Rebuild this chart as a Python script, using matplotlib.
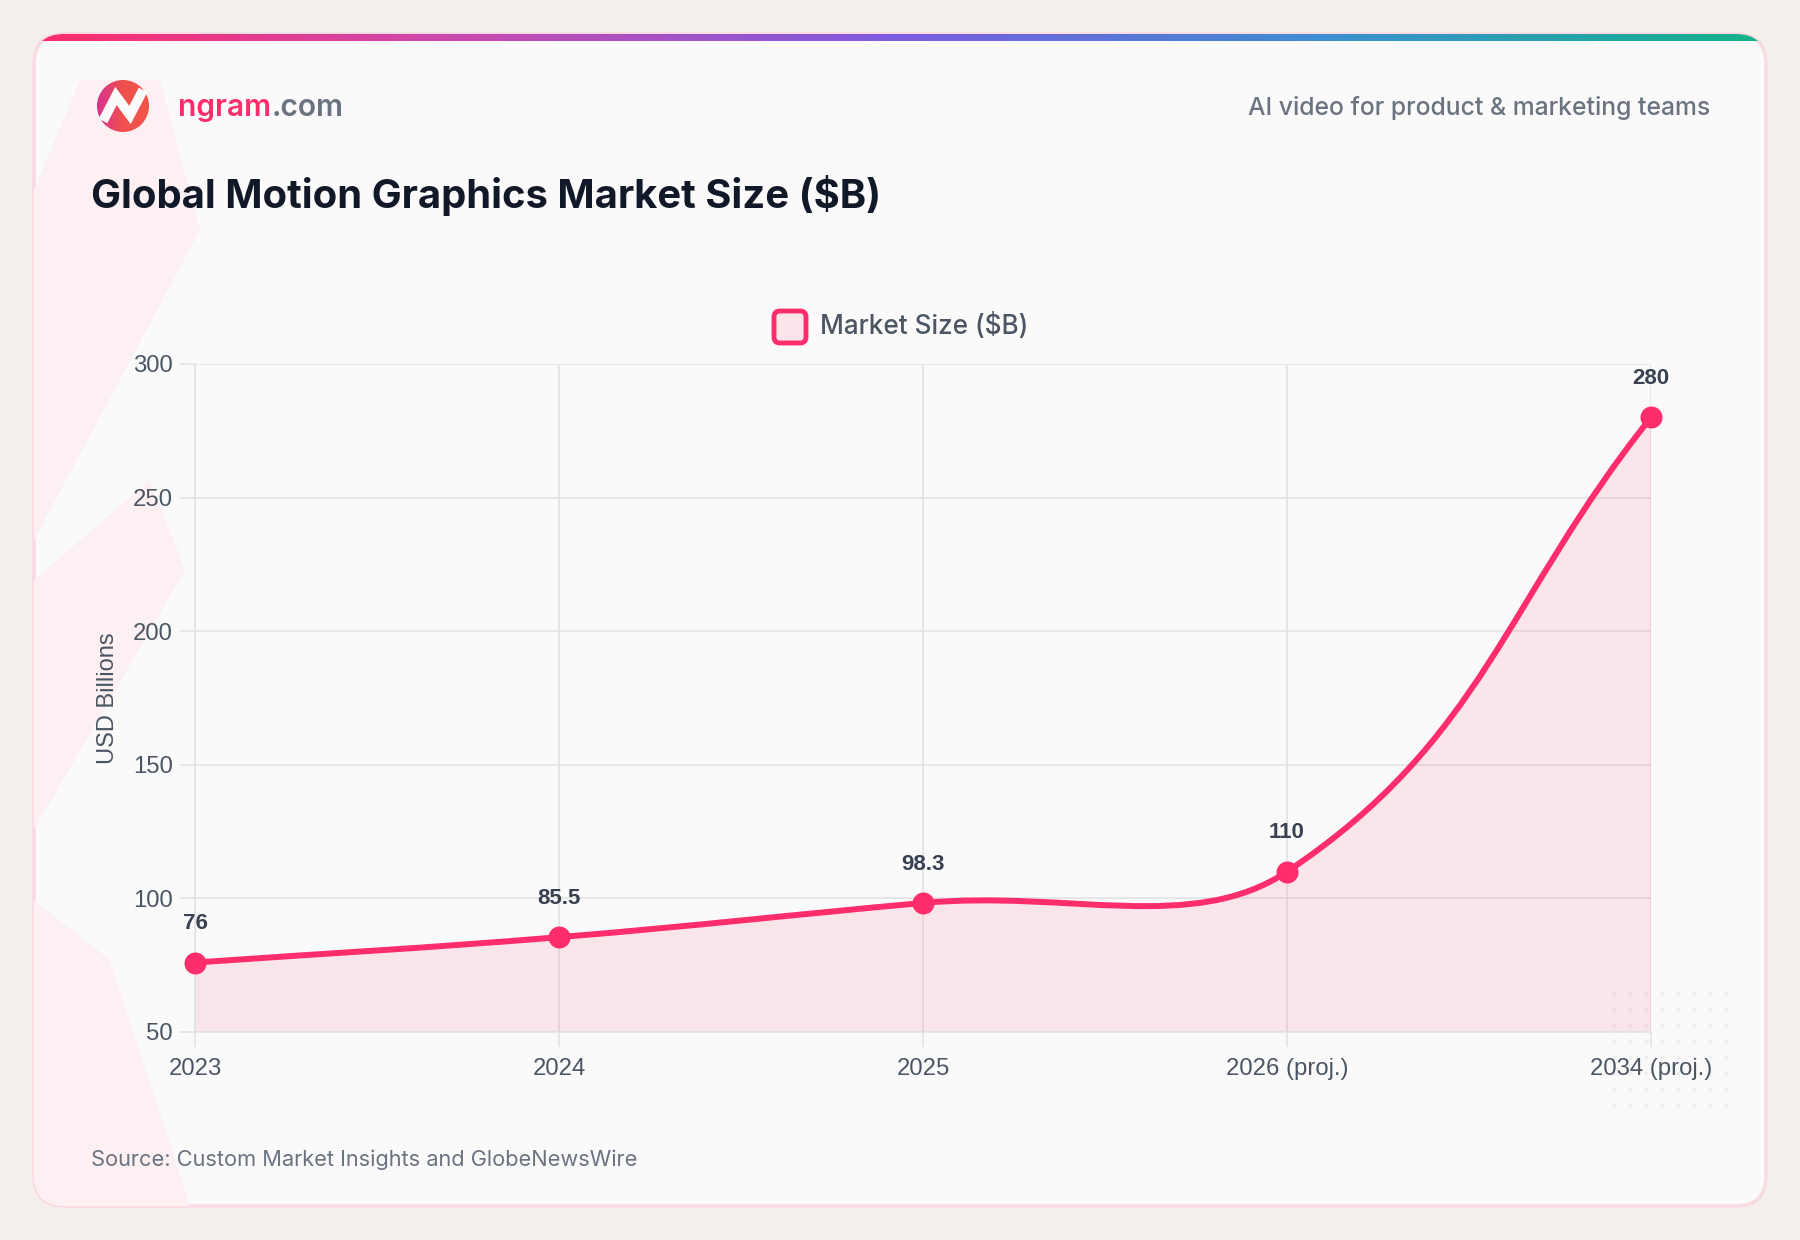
import matplotlib
matplotlib.use("Agg")
import matplotlib.pyplot as plt
import numpy as np
from matplotlib.path import Path
from matplotlib.patches import PathPatch, FancyBboxPatch, Circle, Polygon
from matplotlib.colors import LinearSegmentedColormap

years = ['2023', '2024', '2025', '2026 (proj.)', '2034 (proj.)']
market_size = [76, 85.5, 98.3, 110, 280]
value_labels = ['76', '85.5', '98.3', '110', '280']
y_ticks = [50, 100, 150, 200, 250, 300]

PINK = '#FF2D6B'
TEXT = '#4B5563'
MUTED = '#6B7280'

plt.rcParams['font.family'] = ['Inter', 'DejaVu Sans']

W, H = 1800, 1240
fig = plt.figure(figsize=(W / 100, H / 100), dpi=100)
fig.patch.set_facecolor('#F5F0EC')

# background layer in pixel coords
bg = fig.add_axes([0, 0, 1, 1], zorder=0)
bg.set_xlim(0, W)
bg.set_ylim(H, 0)
bg.axis('off')

card = FancyBboxPatch((34, 34), 1732, 1172, boxstyle='round,pad=0,rounding_size=30',
                      fc='#FAFAFA', ec='#F9D9E2', lw=2.5)
bg.add_patch(card)

# gradient strip at the top of the card
grad = np.linspace(0, 1, 400)[None, :]
cmap = LinearSegmentedColormap.from_list('bar', ['#FF2D6B', '#C84AB0', '#7B5CE0', '#3C8FD0', '#14B38A'])
im = bg.imshow(grad, cmap=cmap, extent=(34, 1766, 41, 34), aspect='auto', zorder=2)
im.set_clip_path(card)

# faint decorations on the left side
for pts in [[(34, 190), (80, 80), (160, 80), (200, 230), (34, 540)],
            [(34, 580), (150, 480), (185, 570), (34, 830)],
            [(34, 900), (110, 960), (190, 1206), (34, 1206)]]:
    p = Polygon(pts, closed=True, fc='#FCF0F3', ec='none', zorder=1)
    bg.add_patch(p)
    p.set_clip_path(card)

# dotted pattern bottom right
dx, dy = np.meshgrid(np.arange(1614, 1730, 16), np.arange(993, 1110, 16))
bg.scatter(dx.ravel(), dy.ravel(), s=4, c='#EEEEEE', zorder=1.5)

# logo
logo = Circle((123, 106), 26, transform=bg.transData)
cm2 = LinearSegmentedColormap.from_list('logo', ['#D6338F', '#F0504E', '#F2564A'])
lim = bg.imshow(np.linspace(0, 1, 100)[None, :], cmap=cm2, extent=(97, 149, 132, 80), aspect='auto', zorder=3)
lim.set_clip_path(logo)
bg.plot([103, 116, 130, 143], [121, 96, 115, 90], color='#FAFAFA', lw=7, solid_capstyle='butt',
        solid_joinstyle='miter', zorder=4)

renderer = fig.canvas.get_renderer()
t1 = fig.text(178 / W, 1 - 108 / H, 'ngram', color=PINK, fontsize=21.6, fontweight='semibold', va='center')
x_end = t1.get_window_extent(renderer).x1
fig.text(x_end / W, 1 - 108 / H, '.com', color=MUTED, fontsize=21.6, fontweight='semibold', va='center')
fig.text(1710 / W, 1 - 108 / H, 'AI video for product & marketing teams', color=MUTED, fontsize=17.8,
         ha='right', va='center', fontweight='medium')
fig.text(91 / W, 1 - 196 / H, 'Global Motion Graphics Market Size ($B)', color='#111827', fontsize=28.8,
         fontweight='bold', va='center')
fig.text(91 / W, 1 - 1160 / H, 'Source: Custom Market Insights and GlobeNewsWire', color=MUTED,
         fontsize=15.7, va='center')

# legend
bg.add_patch(FancyBboxPatch((774, 311), 32, 32, boxstyle='round,pad=0,rounding_size=6',
                            fc='#FCE4EB', ec=PINK, lw=3.5, zorder=3))
fig.text(820 / W, 1 - 327 / H, 'Market Size ($B)', color=TEXT, fontsize=18.8, va='center',
         fontweight='medium')

# chart
ax = fig.add_axes([195 / W, 1 - 1032 / H, (1651 - 195) / W, (1032 - 364) / H], zorder=2)
ax.set_facecolor('none')
x = np.arange(len(years))
ax.set_xlim(0, len(years) - 1)
ax.set_ylim(50, 300)

# Chart.js style bezier (tension 0.4), control points from pixel positions
pts = ax.transData.transform(np.column_stack([x, market_size]))
yk = 1.5  # vertical weighting used for the segment lengths
cp = []
n = len(pts)
for i in range(n):
    prev = pts[i - 1] if i > 0 else pts[i]
    nxt = pts[i + 1] if i < n - 1 else pts[i]
    d01 = np.hypot(pts[i][0] - prev[0], yk * (pts[i][1] - prev[1]))
    d12 = np.hypot(nxt[0] - pts[i][0], yk * (nxt[1] - pts[i][1]))
    tot = d01 + d12
    s01 = d01 / tot if tot else 0
    s12 = d12 / tot if tot else 0
    c1 = pts[i] - 0.4 * s01 * (nxt - prev)
    c2 = pts[i] + 0.4 * s12 * (nxt - prev)
    cp.append((c1, c2))
verts = [pts[0]]
codes = [Path.MOVETO]
for i in range(n - 1):
    verts += [cp[i][1], cp[i + 1][0], pts[i + 1]]
    codes += [Path.CURVE4] * 3
inv = ax.transData.inverted()
verts_d = inv.transform(np.array(verts))
line_path = Path(verts_d, codes)

fill_verts = np.vstack([verts_d, [[x[-1], 50], [x[0], 50], verts_d[0]]])
fill_codes = codes + [Path.LINETO, Path.LINETO, Path.CLOSEPOLY]
ax.add_patch(PathPatch(Path(fill_verts, fill_codes), fc=PINK, alpha=0.1, ec='none', zorder=1))
ax.add_patch(PathPatch(line_path, fc='none', ec=PINK, lw=4.3, zorder=3, capstyle='round'))
ax.scatter(x, market_size, s=220, color=PINK, zorder=4, clip_on=False)

for xi, v, lab in zip(x, market_size, value_labels):
    ax.annotate(lab, (xi, v), xytext=(0, 28), textcoords='offset points', ha='center', va='center',
                fontsize=16, fontweight='bold', color='#374151', annotation_clip=False,
                family=['Liberation Sans', 'DejaVu Sans'])

grid_c = '#E3E3E3'
ax.set_xticks(x)
ax.set_xticklabels(years)
ax.set_yticks(y_ticks)
ax.grid(True, color=grid_c, lw=1.2, zorder=0)
ax.set_axisbelow(True)
ax.tick_params(axis='both', colors=grid_c, labelcolor=TEXT, labelsize=17.2, length=11, width=1.2)
ax.tick_params(axis='x', pad=8)
ax.tick_params(axis='y', pad=5)
for lab in ax.get_xticklabels() + ax.get_yticklabels():
    lab.set_family(['Liberation Sans', 'DejaVu Sans'])
for s in ['top', 'right']:
    ax.spines[s].set_visible(False)
for s in ['left', 'bottom']:
    ax.spines[s].set_color(grid_c)
    ax.spines[s].set_linewidth(1.2)
ax.set_ylabel('USD Billions', color=TEXT, fontsize=17, labelpad=10, family=['Liberation Sans', 'DejaVu Sans'])

fig.savefig('out.png', dpi=100, facecolor=fig.get_facecolor())
